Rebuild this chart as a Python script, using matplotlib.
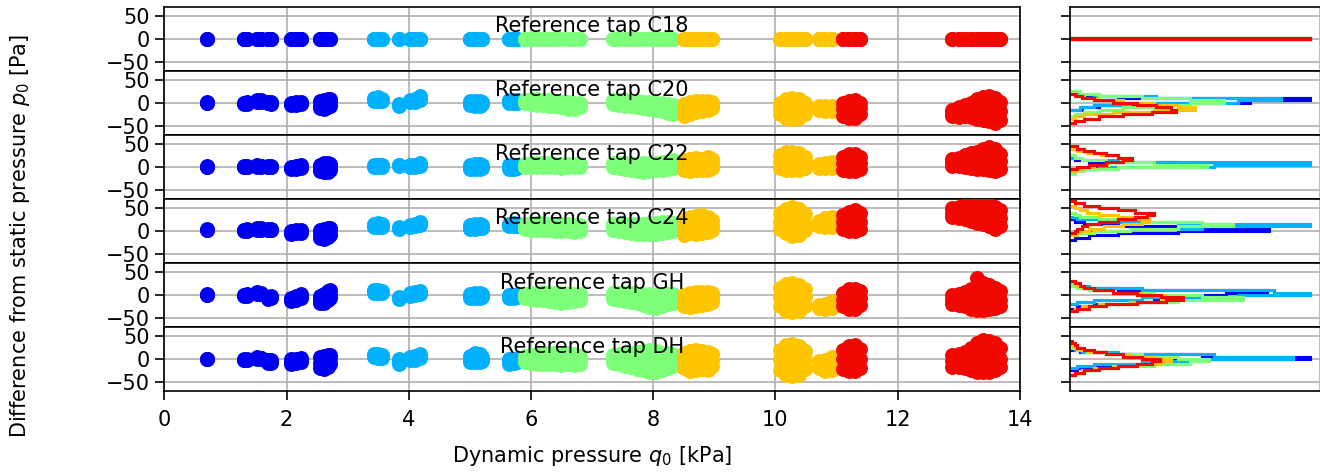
import numpy as np
import matplotlib
matplotlib.use("Agg")
import matplotlib.pyplot as plt

TAPS = ["C18", "C20", "C22", "C24", "GH", "DH"]
GROUP_LEVELS = [0.1, 0.3, 0.5, 0.7, 0.9]          # positions in the jet colormap
X_TICKS = [0, 2, 4, 6, 8, 10, 12, 14]
Y_TICKS = [-50, 0, 50]

# dynamic pressure q0 [kPa] of the samples in each group (each value carries 3 samples)
Q0_BLUE = [0.70, 1.30, 1.36, 1.52, 1.58, 1.70, 1.75, 2.08, 2.16, 2.24, 2.55, 2.62, 2.68, 2.72]
Q0_LBLUE = [3.44, 3.50, 3.56, 3.84, 4.02, 4.10, 4.18, 5.00, 5.08, 5.16, 5.20, 5.64, 5.72, 5.78]
Q0_GREEN = [5.90, 6.00, 6.10, 6.20, 6.30, 6.40, 6.50, 6.60, 6.70, 6.80,
            7.34, 7.44, 7.54, 7.64, 7.74, 7.84, 7.94, 8.04, 8.14, 8.24, 8.32]
Q0_ORANGE = [8.50, 8.60, 8.70, 8.80, 8.90, 8.96, 10.08, 10.18, 10.28, 10.38, 10.48,
             10.72, 10.82, 10.92]
Q0_RED = [11.10, 11.20, 11.30, 11.38, 12.90, 13.00, 13.10, 13.20, 13.30, 13.40, 13.50,
          13.60, 13.68]
Q0_GROUPS = [Q0_BLUE, Q0_LBLUE, Q0_GREEN, Q0_ORANGE, Q0_RED]

# additional samples in the widest orange / red clouds (q0 [kPa])
Q0_EXTRA_ORANGE = [10.18, 10.28, 10.38, 10.18, 10.28, 10.38]
Q0_EXTRA_RED = [13.30, 13.40, 13.50, 13.30, 13.40, 13.50]

# pressure difference [Pa], three samples per q0 value
DP_C18 = [[0] * 42, [0] * 42, [0] * 63, [0] * 42, [0] * 39]
DP_C20 = [
    [-1, 0, 1, -2, -1, 0, -2, 0, 1, 2, 4, 6, 1, 3, 5, -1, 0, 1, -2, 0, 1,
     -4, -2, 0, -4, -1, 1, -3, 0, 2, -12, -4, 3, -13, -3, 5, -10, 0, 8, -6, 2, 9],
    [4, 7, 10, 3, 8, 12, 3, 6, 9, -7, -5, -3, 1, 3, 5, 2, 5, 8, 5, 9, 14,
     -5, -1, 3, -7, -2, 4, -6, 0, 4, -3, 0, 2, -1, 2, 5, -1, 3, 7, 0, 3, 6],
    [0, 3, 6, -2, 3, 8, -4, 2, 9, -5, 0, 6, -6, -1, 5, -8, -2, 4, -10, -3, 2,
     -13, -5, 1, -14, -6, 0, -10, -5, 0,
     -3, 1, 5, -5, 0, 6, -6, -1, 5, -8, -2, 4, -9, -3, 3, -11, -4, 2, -13, -6, 1,
     -15, -7, 0, -18, -9, -1, -22, -12, -2, -24, -14, -4],
    [-28, -14, -2, -24, -10, 2, -20, -8, 3, -18, -6, 4, -16, -5, 3, -12, -4, 2,
     -25, -12, 0, -33, -14, 8, -35, -12, 11, -33, -12, 8, -25, -12, 0,
     -16, -12, -8, -18, -13, -8, -18, -13, -6],
    [-28, -14, 0, -34, -15, 4, -34, -15, 5, -25, -12, 0,
     -30, -22, -15, -32, -22, -10, -30, -18, -5, -32, -15, 0, -35, -12, 8,
     -38, -12, 12, -40, -14, 14, -45, -18, 10, -38, -18, 2],
]
DP_C22 = [
    [-1, 0, 1, -1, 0, 1, -1, 0, 1, 0, 1, 3, 0, 1, 2, -1, 0, 1, -1, 0, 1,
     -5, -2, 0, -5, -2, 1, -3, 0, 3, -10, -2, 5, -12, -2, 8, -12, 0, 9, -8, 0, 7],
    [-1, 2, 5, -1, 3, 5, 0, 2, 4, 1, 3, 5, 0, 2, 4, 0, 3, 5, 2, 5, 8,
     -4, 1, 5, -5, 1, 7, -5, 0, 6, -3, 0, 4, -5, 0, 4, -4, 0, 5, -3, 1, 5],
    [-1, 3, 7, 0, 4, 9, -1, 4, 9, -1, 3, 8, 0, 4, 8, -1, 3, 7, -2, 2, 6,
     -1, 3, 7, -1, 2, 6, 0, 3, 6,
     -1, 4, 9, -2, 3, 9, -4, 2, 8, -6, 1, 8, -10, -1, 7, -12, -2, 8, -10, -1, 8,
     -8, 0, 9, -6, 2, 10, -4, 4, 12, -2, 6, 15],
    [-8, 4, 15, -10, 4, 18, -8, 5, 20, -6, 5, 18, -6, 5, 22, -2, 6, 18,
     -2, 10, 25, -6, 12, 32, -8, 12, 33, -6, 12, 30, -2, 10, 22,
     -2, 3, 6, -3, 3, 8, -2, 4, 10],
    [-6, 8, 22, -9, 10, 28, -9, 10, 28, -5, 8, 22,
     2, 10, 18, 2, 12, 20, 0, 12, 25, -2, 14, 30, -4, 15, 33,
     -5, 18, 38, -7, 18, 43, -9, 15, 38, -5, 12, 28],
]
DP_C24 = [
    [2, 3, 4, 0, 2, 3, 0, 2, 4, 3, 5, 7, 2, 4, 6, 2, 3, 5, 1, 3, 4,
     -6, -3, 0, -5, -2, 1, -4, 0, 3, -16, -6, 2, -18, -6, 4, -14, -2, 6, -8, 0, 6],
    [8, 12, 16, 8, 13, 18, 8, 11, 14, 4, 6, 8, 8, 10, 13, 10, 13, 16, 12, 16, 20,
     4, 8, 12, 5, 10, 15, 6, 10, 14, 6, 9, 12, 10, 13, 16, 10, 14, 18, 10, 13, 16],
    [4, 10, 15, 3, 10, 17, 2, 10, 18, 2, 9, 17, 1, 8, 16, 0, 8, 15, 0, 7, 15,
     -1, 6, 14, -2, 6, 13, 0, 6, 12,
     2, 8, 14, 0, 7, 14, -2, 6, 14, -4, 5, 14, -6, 4, 15, -7, 4, 16, -7, 4, 17,
     -6, 5, 18, -5, 6, 19, -3, 7, 19, 0, 8, 18],
    [-8, 8, 25, -5, 12, 30, -6, 12, 32, -4, 14, 34, -2, 14, 30, 2, 12, 24,
     5, 20, 38, -5, 20, 48, -11, 20, 53, -8, 20, 48, 2, 18, 36,
     10, 16, 22, 8, 18, 28, 8, 18, 30],
    [5, 20, 35, 0, 22, 42, 0, 22, 45, 5, 20, 38,
     30, 40, 50, 28, 40, 53, 25, 40, 55, 22, 38, 55, 18, 35, 56,
     14, 34, 57, 10, 32, 57, 5, 28, 52, 10, 28, 45],
]
DP_GH = [
    [-1, 0, 1, -2, -1, 0, -2, -1, 1, 2, 4, 6, 1, 3, 5, -8, -6, -4, -7, -5, -3,
     -14, -10, -6, -12, -7, -3, -6, -2, 1, -18, -10, -2, -18, -6, 3, -12, -2, 8, -6, 2, 10],
    [5, 8, 10, 5, 8, 11, 4, 7, 9, -9, -6, -4, -2, 1, 4, 0, 3, 6, 2, 5, 8,
     -7, -2, 3, -7, -1, 5, -6, 0, 4, -4, -1, 2, -7, -4, -1, -7, -3, 0, -5, -2, 1],
    [-6, -2, 2, -8, -2, 4, -10, -3, 5, -12, -3, 6, -14, -4, 5, -16, -5, 4, -18, -6, 4,
     -16, -5, 3, -14, -5, 2, -10, -4, 2,
     -8, -2, 4, -12, -4, 4, -14, -5, 5, -16, -6, 4, -18, -7, 3, -22, -9, 3, -26, -12, 2,
     -28, -14, 0, -25, -12, 0, -20, -10, 2, -18, -8, 3],
    [-25, -12, 0, -27, -10, 4, -24, -8, 6, -22, -8, 7, -20, -6, 7, -15, -6, 4,
     -25, -5, 15, -35, -5, 24, -38, -5, 26, -35, -5, 22, -25, -5, 12,
     -28, -25, -22, -30, -26, -20, -28, -22, -14],
    [-25, -10, 5, -30, -8, 12, -30, -6, 14, -22, -6, 8,
     -20, -10, 0, -22, -10, 2, -25, -10, 6, -30, -8, 14, -34, -5, 37,
     -33, -5, 26, -30, -5, 22, -28, -8, 16, -25, -10, 8],
]
DP_DH = [
    [-1, 0, 1, -3, -2, -1, -3, -2, 0, 0, 2, 4, 0, 2, 3, -9, -6, -3, -8, -5, -3,
     -10, -5, 0, -9, -4, 1, -6, -2, 2, -20, -8, 4, -23, -8, 6, -18, -4, 9, -10, 0, 8],
    [4, 7, 10, 3, 8, 11, 3, 6, 9, -10, -5, -1, -3, 1, 5, -2, 3, 7, 2, 6, 10,
     -6, 0, 6, -7, 2, 12, -6, 2, 10, -4, 0, 5, -10, -5, -1, -9, -4, 0, -6, -2, 2],
    [-6, 0, 6, -8, 0, 8, -10, 0, 10, -10, 0, 11, -12, 0, 12, -12, 0, 12, -14, -1, 12,
     -12, 0, 14, -14, -2, 10, -10, -2, 6,
     -8, 0, 8, -12, -2, 10, -15, -3, 12, -18, -4, 14, -22, -5, 16, -25, -6, 18, -28, -8, 19,
     -29, -8, 18, -25, -6, 14, -20, -4, 12, -15, -2, 10],
    [-20, -3, 14, -26, -4, 18, -24, -3, 19, -22, -2, 17, -24, -4, 16, -16, -2, 10,
     -25, 0, 20, -35, 0, 30, -37, 0, 32, -35, 0, 28, -22, 0, 18,
     -20, -12, -4, -26, -14, -2, -24, -10, 4],
    [-22, 0, 20, -27, 0, 28, -26, 2, 30, -20, 0, 22,
     -18, -5, 8, -18, -4, 11, -20, -2, 15, -24, 0, 25, -28, 2, 35,
     -29, 5, 42, -29, 5, 40, -25, 2, 35, -18, 0, 25],
]
DP_ALL = [DP_C18, DP_C20, DP_C22, DP_C24, DP_GH, DP_DH]

# pressure difference [Pa] of the additional orange / red samples
DP_EXTRA_ORANGE = [[0, 0, 0, 0, 0, 0],
                   [-24, -24, -22, -3, 0, -2],
                   [3, 2, 3, 22, 22, 21],
                   [7, 4, 6, 34, 36, 34],
                   [-20, -22, -20, 10, 11, 9],
                   [-18, -19, -18, 15, 16, 14]]
DP_EXTRA_RED = [[0, 0, 0, 0, 0, 0],
                [-24, -25, -27, -2, 0, 0],
                [5, 6, 5, 24, 28, 30],
                [26, 24, 21, 45, 45, 44],
                [-20, -19, -18, 16, 11, 9],
                [-13, -12, -12, 18, 24, 22]]

# histograms of the pressure difference (relative counts), 5 Pa bins: (first edge, counts)
HIST_BIN = 5
HIST_C18 = [(-0.5, [1.0]), (-0.5, [1.0]), (-0.5, [1.0]), (-0.5, [1.0]), (-0.5, [1.0])]
HIST_C20 = [(-15, [0.05, 0.12, 0.30, 0.75, 1.00, 0.20, 0.04]),
            (-15, [0.04, 0.10, 0.25, 0.70, 0.88, 0.36, 0.10, 0.02]),
            (-30, [0.02, 0.06, 0.12, 0.22, 0.35, 0.50, 0.64, 0.50, 0.30, 0.12, 0.04]),
            (-35, [0.02, 0.06, 0.18, 0.35, 0.52, 0.45, 0.35, 0.22, 0.12, 0.06, 0.02]),
            (-45, [0.02, 0.06, 0.12, 0.22, 0.34, 0.44, 0.42, 0.36, 0.28, 0.18, 0.10, 0.05, 0.02])]
HIST_C22 = [(-10, [0.03, 0.10, 0.55, 0.45, 0.08, 0.02]),
            (-10, [0.03, 0.12, 0.60, 1.00, 0.20, 0.05, 0.01]),
            (-15, [0.02, 0.06, 0.20, 0.57, 0.35, 0.15, 0.05, 0.02]),
            (-10, [0.02, 0.05, 0.10, 0.16, 0.22, 0.25, 0.20, 0.13, 0.07, 0.03, 0.01]),
            (-5, [0.03, 0.08, 0.15, 0.22, 0.26, 0.20, 0.15, 0.10, 0.06, 0.03])]
HIST_C24 = [(-20, [0.02, 0.08, 0.20, 0.45, 0.83, 0.50, 0.20, 0.06, 0.02]),
            (-5, [0.05, 0.25, 0.55, 1.00, 0.45, 0.12, 0.03]),
            (-10, [0.03, 0.10, 0.25, 0.45, 0.68, 0.55, 0.30, 0.12, 0.04, 0.02]),
            (-10, [0.02, 0.04, 0.08, 0.14, 0.22, 0.30, 0.33, 0.28, 0.20, 0.12, 0.07, 0.04, 0.02]),
            (-5, [0.02, 0.03, 0.05, 0.07, 0.12, 0.20, 0.27, 0.32, 0.35, 0.27, 0.20, 0.12, 0.06, 0.02])]
HIST_GH = [(-30, [0.03, 0.10, 0.25, 0.43, 0.35, 0.50, 0.65, 0.82, 0.20, 0.04]),
           (-20, [0.03, 0.10, 0.30, 0.70, 1.00, 0.85, 0.30, 0.08, 0.02]),
           (-35, [0.02, 0.05, 0.12, 0.25, 0.45, 0.72, 0.55, 0.35, 0.18, 0.08, 0.03, 0.01]),
           (-35, [0.02, 0.05, 0.12, 0.25, 0.38, 0.45, 0.40, 0.30, 0.18, 0.10, 0.05, 0.03, 0.02]),
           (-35, [0.03, 0.08, 0.15, 0.28, 0.40, 0.47, 0.38, 0.28, 0.18, 0.10, 0.06, 0.04, 0.02])]
HIST_DH = [(-25, [0.03, 0.10, 0.25, 0.40, 0.35, 1.00, 0.55, 0.15, 0.04]),
           (-20, [0.03, 0.10, 0.30, 0.55, 0.93, 0.60, 0.20, 0.05, 0.02]),
           (-35, [0.02, 0.05, 0.10, 0.20, 0.35, 0.50, 0.58, 0.45, 0.30, 0.15, 0.07, 0.03, 0.01]),
           (-35, [0.02, 0.05, 0.10, 0.18, 0.28, 0.38, 0.42, 0.35, 0.25, 0.15, 0.08, 0.04, 0.02]),
           (-35, [0.02, 0.06, 0.12, 0.20, 0.28, 0.34, 0.375, 0.30, 0.22, 0.15, 0.10, 0.06, 0.03, 0.02, 0.01])]
HIST_ALL = [HIST_C18, HIST_C20, HIST_C22, HIST_C24, HIST_GH, HIST_DH]

colors = plt.cm.jet(GROUP_LEVELS)
MS = 38

plt.rcParams["xtick.major.size"] = 4.3
plt.rcParams["ytick.major.size"] = 4.3
plt.rcParams["xtick.major.pad"] = 5.0
plt.rcParams["ytick.major.pad"] = 2.5

fig = plt.figure(figsize=(8.8, 472 / 150), dpi=150)
top, bottom = 1 - 6.7 / 472, 1 - 391 / 472
h = (top - bottom) / len(TAPS)
left_main, right_main = 164.3 / 1320, 1019.7 / 1320
left_hist, right_hist = 1070 / 1320, 1322 / 1320

main_axes = []
for i, (tap, dps, hists) in enumerate(zip(TAPS, DP_ALL, HIST_ALL)):
    y0 = top - (i + 1) * h
    ax = fig.add_axes([left_main, y0, right_main - left_main, h],
                      sharex=main_axes[0] if main_axes else None)
    main_axes.append(ax)
    for g, (q0, dp, c) in enumerate(zip(Q0_GROUPS, dps, colors)):
        ax.scatter(np.repeat(q0, 3), dp, s=MS, color=c, zorder=3)
        if g == 3:
            ax.scatter(Q0_EXTRA_ORANGE, DP_EXTRA_ORANGE[i], s=MS, color=c, zorder=3)
        if g == 4:
            ax.scatter(Q0_EXTRA_RED, DP_EXTRA_RED[i], s=MS, color=c, zorder=3)
    ax.set_xlim(0, 14)
    ax.set_ylim(-70, 70)
    ax.set_yticks(Y_TICKS)
    ax.set_xticks(X_TICKS)
    ax.grid(True)
    ax.set_axisbelow(True)
    ax.text(0.5, 0.6, f"Reference tap {tap}", transform=ax.transAxes,
            ha="center", va="baseline", zorder=5)
    if i < len(TAPS) - 1:
        ax.tick_params(labelbottom=False)
    else:
        ax.set_xlabel("Dynamic pressure $q_0$ [kPa]", labelpad=6.5)

    hx = fig.add_axes([left_hist, y0, right_hist - left_hist, h])
    for (start, counts), c in zip(hists, colors):
        if tap == "C18":
            edges = [start, start + 1.0]
        else:
            edges = start + HIST_BIN * np.arange(len(counts) + 1)
        hx.stairs(counts, edges, orientation="horizontal", color=c, linewidth=1.5,
                  baseline=0)
    hx.set_ylim(-70, 70)
    hx.set_yticks(Y_TICKS)
    hx.set_xlim(0, 1.05)
    hx.set_xticks([1.04])
    hx.tick_params(labelleft=False, labelbottom=False, bottom=False)
    hx.grid(True)
    hx.set_axisbelow(True)

fig.supylabel("Difference from static pressure $p_0$ [Pa]", x=0.006, fontsize=10)
fig.savefig("out.png", dpi=150)
